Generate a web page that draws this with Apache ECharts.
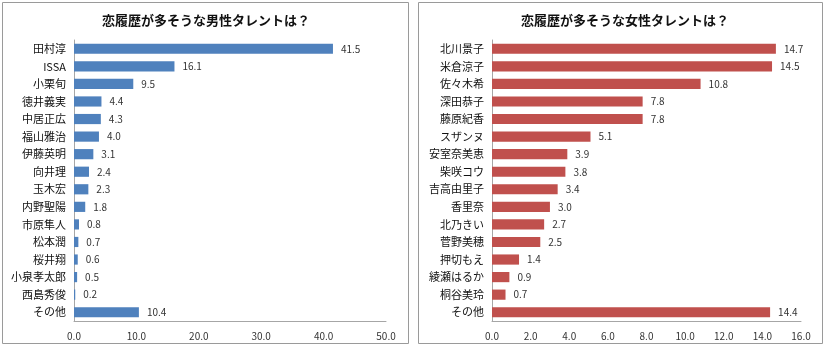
<!DOCTYPE html>
<html><head><meta charset="utf-8">
<script src="https://cdn.jsdelivr.net/npm/echarts@6/dist/echarts.min.js"></script>
<style>html,body{margin:0;padding:0;background:#fff}#c{width:826px;height:350px}</style>
</head><body><div id="c"></div>
<script>
const maleTitle = '恋履歴が多そうな男性タレントは？';
const femaleTitle = '恋履歴が多そうな女性タレントは？';
const maleNames = ['田村淳','ISSA','小栗旬','徳井義実','中居正広','福山雅治','伊藤英明','向井理','玉木宏','内野聖陽','市原隼人','松本潤','桜井翔','小泉孝太郎','西島秀俊','その他'];
const maleValues = [41.5,16.1,9.5,4.4,4.3,4.0,3.1,2.4,2.3,1.8,0.8,0.7,0.6,0.5,0.2,10.4];
const femaleNames = ['北川景子','米倉涼子','佐々木希','深田恭子','藤原紀香','スザンヌ','安室奈美恵','柴咲コウ','吉高由里子','香里奈','北乃きい','菅野美穂','押切もえ','綾瀬はるか','桐谷美玲','その他'];
const femaleValues = [14.7,14.5,10.8,7.8,7.8,5.1,3.9,3.8,3.4,3.0,2.7,2.5,1.4,0.9,0.7,14.4];
const maleTicks = {min:0,max:50,interval:10};
const femaleTicks = {min:0,max:16,interval:2};

const font = '"Noto Sans CJK JP", sans-serif';
const chart = echarts.init(document.getElementById('c'));
function xAx(i, t){
  return {gridIndex:i,type:'value',min:t.min,max:t.max,interval:t.interval,
    axisLine:{show:true,lineStyle:{color:'#a6a6a6'}},axisTick:{show:false},splitLine:{show:false},
    axisLabel:{fontFamily:font,fontSize:10,color:'#333',margin:10,formatter:v=>v.toFixed(1)}};
}
function yAx(i, names){
  return {gridIndex:i,type:'category',data:names,inverse:true,
    axisLine:{show:true,lineStyle:{color:'#a6a6a6'}},axisTick:{show:false},
    axisLabel:{fontFamily:font,fontSize:11,color:'#111',margin:8}};
}
function ser(i, vals, color){
  return {type:'bar',xAxisIndex:i,yAxisIndex:i,data:vals,barCategoryGap:'42%',
    itemStyle:{color:color},
    label:{show:true,position:'right',distance:8,fontFamily:font,fontSize:10,color:'#333',formatter:p=>p.value.toFixed(1)}};
}
chart.setOption({
  animation:false,
  title:[
    {text:maleTitle,left:201,top:9,textAlign:'center',textStyle:{fontFamily:font,fontSize:13,fontWeight:'bold',color:'#111'}},
    {text:femaleTitle,left:620,top:9,textAlign:'center',textStyle:{fontFamily:font,fontSize:13,fontWeight:'bold',color:'#111'}}
  ],
  graphic:[
    {type:'rect',shape:{x:2.5,y:2.5,width:406,height:341},style:{fill:'none',stroke:'#9a9a9a',lineWidth:1}},
    {type:'rect',shape:{x:418.5,y:2.5,width:404,height:341},style:{fill:'none',stroke:'#9a9a9a',lineWidth:1}}
  ],
  grid:[
    {left:74,width:312,top:40,height:281},
    {left:492,width:309,top:40,height:281}
  ],
  xAxis:[xAx(0,maleTicks),xAx(1,femaleTicks)],
  yAxis:[yAx(0,maleNames),yAx(1,femaleNames)],
  series:[ser(0,maleValues,'#4f81bd'),ser(1,femaleValues,'#c0504d')]
});
</script></body></html>
